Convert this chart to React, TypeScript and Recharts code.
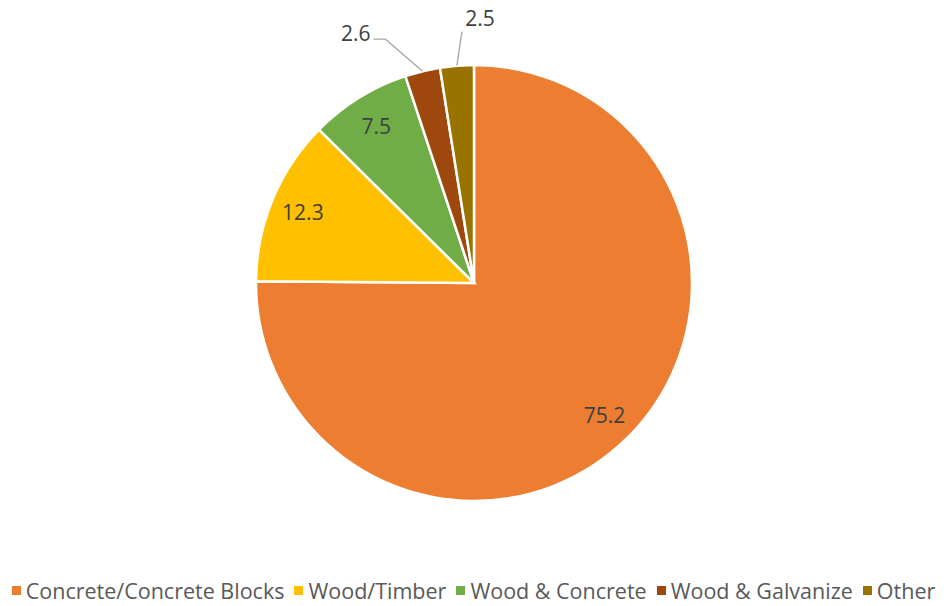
import { Cell, Legend, Pie, PieChart } from "recharts";

const categories = [
  "Concrete/Concrete Blocks",
  "Wood/Timber",
  "Wood & Concrete",
  "Wood & Galvanize",
  "Other",
];
const values = [75.2, 12.3, 7.5, 2.6, 2.5];
const colors = ["#ED7D31", "#FFC000", "#70AD47", "#9E480E", "#997300"];

const data = categories.map((name, i) => ({ name, value: values[i] }));

const RAD = Math.PI / 180;

// leader line elbows for the small slices (offsets from the slice edge)
const outside: Record<number, { ex: number; ey: number; tx: number; ty: number; anchor: string }> = {
  3: { ex: -37, ey: -32, tx: -52, ty: -38, anchor: "end" },
  4: { ex: 5, ey: -34, tx: 23, ty: -48, anchor: "middle" },
};

function renderLabel(props: any) {
  const { cx, cy, midAngle, outerRadius, index, value } = props;
  const cos = Math.cos(-midAngle * RAD);
  const sin = Math.sin(-midAngle * RAD);
  const o = outside[index];
  if (o) {
    const sx = cx + outerRadius * cos;
    const sy = cy + outerRadius * sin;
    const ex = sx + o.ex;
    const ey = sy + o.ey;
    const pts =
      index === 3
        ? `${sx},${sy} ${ex},${ey} ${ex - 12},${ey}`
        : `${sx},${sy} ${ex},${ey}`;
    return (
      <g>
        <polyline points={pts} fill="none" stroke="#A6A6A6" strokeWidth={1.3} />
        <text
          x={sx + o.tx}
          y={sy + o.ty}
          textAnchor={o.anchor}
          dominantBaseline="central"
          fill="#404040"
          fontSize={21}
          fontFamily="Open Sans"
        >
          {value}
        </text>
      </g>
    );
  }
  const r = outerRadius * 0.85;
  return (
    <text
      x={cx + r * cos}
      y={cy + r * sin}
      textAnchor="middle"
      dominantBaseline="central"
      fill="#404040"
      fontSize={21}
      fontFamily="Open Sans"
    >
      {value}
    </text>
  );
}

function LegendContent() {
  return (
    <div
      style={{
        display: "flex",
        justifyContent: "center",
        alignItems: "center",
        fontFamily: "Open Sans",
        fontSize: 21.5,
        color: "#595959",
        whiteSpace: "nowrap",
      }}
    >
      {categories.map((c, i) => (
        <span key={c} style={{ display: "flex", alignItems: "center", marginRight: i < categories.length - 1 ? 10 : 0 }}>
          <span style={{ width: 9, height: 9, background: colors[i], marginRight: 5, display: "inline-block" }} />
          {c}
        </span>
      ))}
    </div>
  );
}

export default function App() {
  return (
    <div style={{ position: "absolute", left: 0, top: 0, width: 947, height: 606, background: "#fff" }}>
      <PieChart width={947} height={606} margin={{ top: 0, right: 0, bottom: 0, left: 0 }}>
        <Pie
          data={data}
          dataKey="value"
          nameKey="name"
          cx={474}
          cy={283}
          outerRadius={218}
          startAngle={90}
          endAngle={-270}
          stroke="#fff"
          strokeWidth={2.5}
          label={renderLabel}
          labelLine={false}
          isAnimationActive={false}
        >
          {data.map((d, i) => (
            <Cell key={d.name} fill={colors[i]} />
          ))}
        </Pie>
        <Legend
          content={<LegendContent />}
          verticalAlign="bottom"
          wrapperStyle={{ left: 0, width: 947, bottom: 1 }}
        />
      </PieChart>
    </div>
  );
}
